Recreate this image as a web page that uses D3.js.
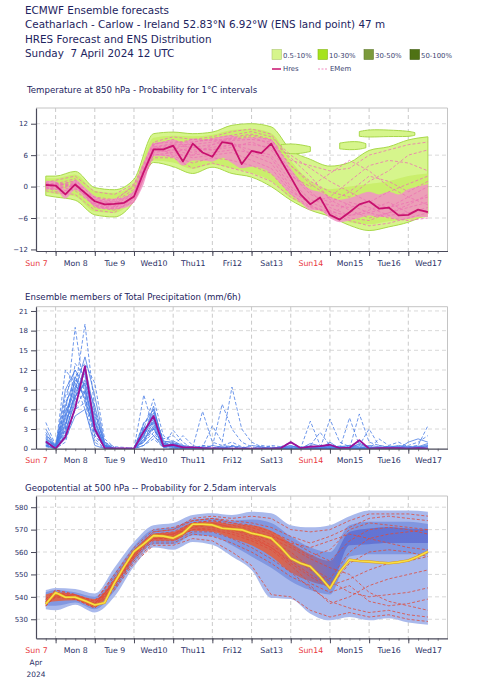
<!DOCTYPE html>
<html>
<head>
<meta charset="utf-8">
<script src="https://cdn.jsdelivr.net/npm/d3@7"></script>
<style>
  body { margin: 0; background: #fff; }
  text { font-family: "DejaVu Sans", sans-serif; }
</style>
</head>
<body>
<svg id="chart"></svg>
<script>
// ---- data ----
const baseTime = Date.UTC(2024, 3, 7, 12);   // Sun 7 April 2024 12 UTC
const endTime = Date.UTC(2024, 3, 18, 0);

const titleLines = [
    "ECMWF Ensemble forecasts",
    "Ceatharlach - Carlow - Ireland 52.83°N 6.92°W (ENS land point) 47 m",
    "HRES Forecast and ENS Distribution",
    "Sunday  7 April 2024 12 UTC"
];
const dayLabels = ["Sun 7", "Mon 8", "Tue 9", "Wed10", "Thu11", "Fri12", "Sat13", "Sun14", "Mon15", "Tue16", "Wed17"];
const legendLabels = ["0.5-10%", "10-30%", "30-50%", "50-100%"];
const legendColors = ["#d6f58c", "#a6e31c", "#7b9a3c", "#4f7214"];

// forecast steps (hours after base time)
const stepHours = [6, 12, 18, 24, 30, 36, 42, 48, 54, 60, 66, 72, 78, 84, 90, 96, 102, 108, 114, 120,
    126, 132, 138, 144, 150, 156, 162, 168, 174, 180, 186, 192, 198, 204, 210, 216, 222, 228, 234, 240];
const bandHours = [6, 12, 24, 36, 48, 60, 72, 84, 96, 108, 120, 132, 144, 156, 168, 180, 192, 204, 216, 228, 240];

// Temperature 850 hPa
const t850Ticks = [-12, -6, 0, 6, 12];
const t850Hres = [0.3, 0.2, -1.5, 0.4, -1.2, -2.8, -3.4, -3.3, -3.1, -1.9, 2.8, 7.1, 7.1, 7.8, 4.8, 8.2, 6.5, 5.7, 8.5, 8.2,
    4.3, 6.8, 6.4, 8.2, 5.0, 1.8, -1.5, -3.4, -2.1, -5.4, -6.3, -4.9, -3.4, -2.8, -4.2, -4.0, -5.5, -5.4, -4.4, -4.9];
const t850OuterHi = [2.0, 2.0, 2.9, -0.2, -0.6, 1.4, 10.1, 10.4, 10.1, 10.4, 11.7, 12.0, 11.4, 7.0, 5.2, 3.9, 4.6, 6.9, 7.6, 8.9, 9.5];
const t850OuterLo = [-1.7, -2.0, -2.6, -5.4, -5.8, -2.8, 4.6, 3.8, 2.5, 3.7, 2.5, 1.8, 0.0, -2.6, -4.5, -5.7, -7.4, -8.4, -7.7, -6.8, -5.2];
const t850MidHi = [1.6, 1.6, 2.3, -0.8, -1.2, 0.6, 9.3, 9.7, 9.6, 9.9, 10.8, 11.0, 10.2, 5.0, 1.0, -0.5, 0.0, 0.5, 1.0, 2.0, 2.5];
const t850MidLo = [-1.2, -1.4, -1.9, -4.8, -5.0, -2.2, 5.0, 4.6, 3.4, 4.2, 3.5, 2.6, 1.0, -2.2, -4.0, -5.2, -6.8, -7.2, -6.6, -6.3, -5.8];
const t850CoreHi = [1.1, 1.0, -0.5, 1.3, -0.2, -1.8, -2.4, -2.3, -2.0, -0.6, 4.5, 8.3, 8.6, 9.0, 8.5, 9.2, 9.0, 9.2, 9.6, 9.8,
    9.2, 9.4, 9.3, 9.0, 6.5, 3.5, 1.0, -0.5, -1.0, -2.0, -2.5, -2.2, -1.5, -1.0, -1.5, -1.0, -1.5, -0.5, 0.0, 0.5];
const t850CoreLo = [-0.5, -0.6, -2.3, -0.6, -2.2, -3.8, -4.3, -4.3, -4.1, -3.0, 0.5, 5.8, 5.8, 5.5, 4.0, 5.0, 5.0, 4.8, 5.5, 4.5,
    3.5, 3.8, 3.5, 2.5, 0.5, -1.5, -3.0, -4.5, -4.5, -6.0, -6.8, -6.5, -6.0, -5.5, -5.8, -5.8, -6.3, -6.2, -5.8, -5.8];
const t850IslandHours = [[186, 192, 198, 202], [198, 204, 216, 228, 232], [150, 156, 162, 168]];
const t850IslandHi = [[8.3, 8.6, 8.6, 8.2], [10.5, 10.9, 10.8, 10.6, 10.3], [8.0, 8.2, 8.0, 7.6]];
const t850IslandLo = [[7.2, 7.0, 7.1, 7.4], [9.6, 9.4, 9.6, 9.5, 9.8], [6.6, 6.2, 6.3, 6.7]];
const t850Members = [
    [0.8, 1.2, 2.0, -1.0, -1.5, 0.5, 8.5, 9.5, 9.0, 9.5, 10.5, 11.0, 10.0, 5.0, 4.0, 3.0, 3.5, 6.0, 7.0, 8.0, 8.5],
    [-0.8, -1.2, -1.5, -4.5, -5.0, -2.0, 5.5, 5.5, 3.5, 4.5, 3.5, 2.5, 1.0, -2.0, -4.0, -5.0, -6.5, -7.5, -7.0, -6.0, -5.0],
    [0.3, 0.0, 0.8, -3.0, -3.5, -1.5, 7.0, 7.5, 6.5, 7.5, 8.0, 7.0, 6.0, 1.0, -2.5, -3.5, -4.0, -3.0, -1.0, 0.5, 2.0],
    [0.5, -0.5, 0.2, -2.5, -3.0, -0.5, 7.5, 8.0, 8.0, 8.5, 9.0, 9.5, 8.0, 3.0, -1.0, -4.0, -5.5, -5.0, -4.0, -3.0, -2.0],
    [-0.3, 0.5, 1.5, -3.5, -4.0, -2.5, 6.0, 6.5, 5.5, 6.0, 6.5, 5.0, 3.5, -1.0, -3.0, -2.0, 1.0, 4.0, 5.0, 4.5, 3.0],
    [0.0, -1.0, -0.5, -2.0, -2.5, 0.0, 8.0, 9.0, 7.0, 7.0, 7.5, 8.5, 7.0, 2.0, 0.0, 2.5, 5.0, 3.0, 0.0, -2.0, -3.5],
    [0.6, 0.4, 1.0, -4.0, -4.5, -3.0, 6.5, 7.0, 8.5, 9.0, 8.5, 6.0, 4.5, -0.5, -3.5, -5.5, -3.0, -4.0, -5.5, -5.0, -4.0],
    [0.2, 0.8, -0.3, -2.8, -3.2, -1.0, 7.8, 6.0, 6.0, 8.0, 9.5, 10.0, 9.0, 4.0, 1.0, -1.0, -2.0, 1.0, 3.0, 6.0, 7.0],
    [0.4, 0.3, 0.5, -3.2, -3.8, -2.0, 7.2, 7.8, 7.5, 8.0, 8.8, 9.0, 8.5, 4.0, 0.5, -2.0, -3.5, -5.0, -6.0, -6.5, -6.0],
    [-0.5, -0.2, 0.3, -3.8, -4.2, -1.8, 6.8, 7.0, 6.0, 6.5, 7.0, 6.5, 5.5, 0.0, -3.0, -4.5, -6.0, -6.5, -5.0, -4.0, -3.0],
    [0.7, 0.0, 1.2, -2.2, -2.8, 0.3, 8.2, 8.5, 8.5, 9.2, 9.8, 10.5, 9.5, 6.0, 3.5, 1.0, -1.0, -3.0, -4.0, -2.0, 0.0],
    [0.1, 0.6, 0.0, -3.3, -3.7, -2.2, 7.0, 6.5, 7.5, 7.0, 8.0, 8.0, 7.5, 2.5, -1.5, -3.0, -1.0, 2.0, 1.0, -1.0, 1.0],
    [-0.2, -0.6, 0.6, -2.6, -3.3, -1.2, 7.6, 8.2, 9.0, 8.8, 9.2, 9.8, 8.8, 5.5, 2.0, -2.5, -4.5, -6.0, -5.0, -3.5, -1.5],
    [0.5, 0.2, -0.8, -3.6, -4.4, -2.8, 6.2, 5.8, 4.5, 5.5, 5.0, 4.0, 2.5, -1.5, -3.8, -4.8, -5.5, -4.5, -3.0, -5.0, -4.5]
];

// Total precipitation (mm/6h)
const precTicks = [0, 3, 6, 9, 12, 15, 18, 21];
const precHres = [1.1, 0, 1.8, 6.2, 12.6, 3.0, 0.1, 0.05, 0.05, 0, 2.6, 5.0, 0.4, 0.6, 0.2, 0.2, 0.1, 0.05, 0, 0,
    0, 0, 0, 0, 0.1, 1.0, 0.1, 0.3, 0.4, 0.6, 0.1, 0.15, 1.3, 0, 0.1, 0.1, 0.1, 0, 0.1, 0];
// outlying members (dashed)
const precMembersOut = [
    [1.5, 0.3, 5, 18.5, 8, 2, 0.3, 0, 0, 0, 1, 3, 0.5, 0.3, 0, 0, 0, 0, 0.5, 1, 0.3, 0, 0, 0, 0, 0, 0, 0, 0, 0, 0, 0, 0, 0, 0, 0, 0, 0, 0, 0],
    [0.8, 0, 2, 9, 19, 6, 0.5, 0, 0, 0, 2, 6, 1, 0.5, 0.2, 0, 0.5, 0.2, 0, 0.3, 0, 0, 0, 0, 0, 0.2, 0, 0, 0, 0, 0, 0, 0, 0, 0, 0, 0, 0, 0, 0.5],
    [4, 0.5, 3, 11, 13, 10, 1.5, 0.2, 0, 0, 8.2, 3, 0.5, 2.8, 1, 0, 0, 0, 0, 0, 0, 0, 0, 0, 0, 0, 0, 0, 0, 0, 0, 0, 0, 0, 0, 0, 0, 0, 0, 0],
    [2, 0.2, 8, 12, 7, 3, 0.5, 0, 0, 0, 3, 7.6, 2, 1, 0.5, 0.2, 5.7, 1, 0.5, 0.3, 0, 0, 0, 0, 0, 0, 0, 0, 0, 0, 0, 0, 0, 0, 0, 0, 0, 0, 0, 0],
    [1, 0, 12, 10, 6, 1, 0, 0, 0, 0, 1.5, 4, 0.5, 0.2, 0, 0, 0.5, 0.3, 6.8, 3, 1, 0.3, 0, 0, 0, 0, 0, 0, 0, 0, 0, 0, 0, 0, 0, 0, 0, 0, 0, 0],
    [0.5, 0.3, 4, 8, 10, 5, 1, 0.3, 0.2, 0, 4, 5, 1.5, 2, 0.5, 0.3, 0.2, 3.5, 1, 9.4, 3, 1, 0.3, 0, 0, 0, 0, 4.2, 0.5, 0, 0, 0, 0, 0, 0, 0, 0, 0, 0, 0],
    [2.5, 0, 1, 6, 9, 4, 0.5, 0, 0, 0, 2.5, 3, 0.5, 0.3, 2, 0.5, 0, 0, 0.2, 0.5, 0.2, 0, 0, 0, 0.3, 1, 0.2, 0.5, 2.5, 0.5, 0, 0, 0, 0, 0, 0, 0, 0, 0, 0],
    [1.2, 0.5, 6, 7.5, 12, 3, 0.2, 0, 0, 0.2, 1, 2.5, 0.3, 1, 0.2, 0, 0, 0, 0, 0, 0, 0, 0.5, 0.3, 0, 0, 0, 0, 0, 4.5, 1, 0.3, 0, 0, 0, 0, 0, 0, 0, 0],
    [0.8, 0, 3, 13, 11, 4, 0.5, 0, 0, 0, 0.5, 1.5, 0.2, 0, 0, 0, 0, 0, 0, 0, 0, 0, 0, 0, 0, 0, 0, 0, 0, 0, 0, 4.7, 0.5, 3, 0.5, 0.2, 0, 0, 0, 0],
    [1.8, 0.2, 7, 10, 8, 2, 0.3, 0, 0, 0, 3.5, 2, 0.5, 0.3, 0, 0, 0, 0, 0, 0, 0, 0, 0, 0, 0, 0, 0, 0, 0, 0.3, 0.2, 0, 5.3, 1, 0.5, 0.3, 0.2, 0.5, 1, 2],
    [0.3, 0, 2.5, 6, 7, 1.5, 0, 0, 0, 0, 1, 4.5, 0.8, 0.5, 0, 0, 0, 0, 0, 0, 0, 0, 0, 0.5, 0.3, 0, 0, 0.5, 0, 0, 0, 0.5, 1, 0, 1.5, 0.5, 1, 0.3, 0.5, 3.5]
];
// members in the dense core (thin solid)
const precMembersCore = [
    [1, 0.2, 5, 9, 14, 8, 1, 0, 0, 0, 2, 6.5, 0.5, 0.3, 0.2, 0, 0, 0, 0, 0, 0, 0.5, 0.3, 0, 0, 0, 0.2, 0, 0, 0, 0, 0, 0, 0, 0, 0, 0, 1, 1.5, 1],
    [3, 0.3, 9, 12, 9.5, 2.5, 0.5, 0, 0, 0, 0.5, 2, 0.2, 0, 0, 0, 0, 0, 0, 0, 0, 0, 0, 0, 0, 0, 0, 0, 0, 0, 0, 0, 0, 0, 0, 0, 0, 0, 0, 0],
    [0.5, 0, 1.5, 5, 6, 0.5, 0, 0, 0, 0, 1.2, 3.5, 0.3, 0.8, 0.3, 0, 0, 0, 0, 0, 0, 0, 0, 0, 0, 0, 0, 0, 0, 1, 0, 0, 0.2, 0, 0, 0, 0, 0, 0, 0],
    [0.6, 0, 3.5, 8.5, 11.5, 4.5, 0.3, 0, 0, 0, 2.2, 4.2, 0.6, 0.4, 0, 0, 0.3, 0, 0, 0, 0, 0, 0, 0.2, 0, 0, 0, 0.4, 0.2, 0, 0, 0.3, 0.6, 0.2, 0, 0, 0.3, 0.2, 0, 0.4],
    [1.4, 0.1, 4.5, 10.5, 9, 3.5, 0.4, 0, 0, 0, 3.2, 3.8, 0.8, 0.6, 0.2, 0, 0, 0.5, 0.2, 0, 0, 0, 0, 0, 0.2, 0.5, 0, 0, 0, 0.4, 0.2, 0, 0, 0.5, 0.3, 0, 0, 0, 0.2, 0],
    [0.9, 0.2, 2.8, 7, 10.5, 6.5, 0.8, 0, 0, 0, 1.8, 5.5, 1.2, 0.8, 0.3, 0, 0, 0, 0, 0.4, 0.2, 0, 0, 0, 0, 0, 0, 0.8, 0.4, 0.2, 0, 0, 0.8, 0.3, 0, 0.2, 0.5, 0.3, 0.2, 0.6],
    [2.2, 0.4, 6.5, 11, 7.5, 2.8, 0.2, 0, 0, 0, 2.8, 4.8, 0.4, 0.2, 0, 0, 0, 0, 0.3, 0, 0, 0, 0, 0, 0, 0.3, 0.2, 0, 0.3, 0.6, 0.2, 0, 0, 0, 0, 0.4, 0.3, 0, 0, 0],
    [0.4, 0, 2.2, 7.8, 12.5, 5.5, 0.6, 0, 0, 0, 1.4, 3.2, 0.5, 0.3, 0.1, 0, 0, 0, 0, 0, 0, 0, 0.2, 0, 0, 0, 0, 0.3, 0, 0, 0.3, 0.5, 0.2, 0, 0.2, 0, 0, 0.2, 0.4, 0.2],
    [1.6, 0.3, 5.5, 9.5, 8.5, 3.2, 0.3, 0, 0, 0, 3.8, 6, 1, 1.2, 0.4, 0, 0, 0, 0, 0, 0, 0, 0, 0, 0, 0.2, 0, 0, 0.2, 0.3, 0, 0, 0.4, 0, 0, 0, 0.2, 0, 0, 0.3],
    [1.1, 0.1, 3.8, 8, 10, 4, 0.5, 0, 0, 0, 2.5, 4.5, 0.7, 0.5, 0.2, 0, 0.2, 0, 0, 0, 0, 0, 0, 0, 0.2, 0.4, 0.2, 0.2, 0, 0.2, 0.4, 0.2, 0, 0.2, 0.2, 0.3, 0, 0, 0.3, 0.8]
];

// Geopotential 500 hPa (dam)
const z500Ticks = [530, 540, 550, 560, 570, 580];
const z500Hres = [536.8, 541.9, 539.8, 539.8, 538.3, 536.4, 537.4, 546.1, 553.5, 560.2, 563.6, 567.3, 567.1, 566.2, 568.4, 572.4, 572.4, 572.1, 570.6, 570.3,
    569.9, 568.4, 567.5, 566.2, 562.0, 557.2, 555.0, 553.5, 549.0, 543.8, 551.2, 556.5, 556.0, 555.7, 555.3, 555.0, 555.5, 556.2, 558.0, 560.2];
const z500OuterHi = [543, 544, 543.5, 541.5, 553, 564.5, 572, 573, 576.5, 577.3, 576.5, 578, 577.3, 572, 571, 572, 576, 578.5, 578.5, 578.5, 578];
const z500OuterLo = [534.5, 534, 536.5, 533, 540, 553.5, 562, 561, 564.5, 563.2, 558, 552, 539.5, 539, 532.5, 529.5, 531, 529.5, 530.5, 528.5, 527.5];
const z500InnerHi = [542, 543, 542, 540, 550.5, 562.5, 570, 571, 574.5, 575, 574, 574.5, 573, 567, 562, 560, 572, 573.5, 573.5, 573.5, 572.5];
const z500InnerLo = [536, 536, 537.5, 534.5, 542.5, 555.5, 563.5, 563.5, 567.5, 567, 563, 558, 553, 547, 543, 541, 558, 559, 559, 559, 559];
const z500CoreHi = [541, 542, 541, 539, 548, 560, 568, 569, 573, 573.5, 572.5, 572, 569.5, 564, 559, 556, 569, 570.5, 571, 570.5, 570];
const z500CoreLo = [537.5, 538, 538.5, 535.5, 545, 557, 565, 565, 569.5, 569, 566, 563, 558, 551, 547, 545, 563, 563.5, 564, 564, 564];
const z500Members = [
    [538, 542, 540, 537, 548, 561, 569, 570, 575, 576, 575, 576, 575, 570, 569, 570, 574, 577, 577, 577, 576],
    [536, 540, 539, 535, 543, 555, 563, 563, 566, 565, 560, 554, 541, 540, 534, 531, 533, 531, 532, 530, 529],
    [537, 541, 540, 536, 545, 558, 566, 566, 570, 571, 569, 566, 562, 556, 550, 545, 548, 552, 555, 556, 558],
    [539, 543, 541, 538, 550, 562, 570, 571, 574, 575, 573, 572, 569, 565, 560, 556, 565, 570, 571, 570, 568],
    [537, 541, 539, 537, 546, 559, 567, 567, 572, 572, 570, 568, 565, 560, 553, 548, 560, 566, 568, 569, 570],
    [536, 541, 540, 536, 544, 556, 564, 564, 568, 567, 564, 560, 555, 549, 545, 537, 540, 545, 548, 550, 552],
    [538, 542, 539, 536, 547, 560, 568, 569, 573, 574, 572, 570, 566, 562, 557, 553, 550, 542, 538, 536, 534],
    [537, 540, 541, 537, 546, 559, 567, 568, 571, 573, 571, 569, 567, 564, 562, 565, 568, 566, 564, 562, 561],
    [537, 541, 540, 536, 545, 557, 565, 565, 569, 569, 566, 562, 557, 551, 544, 538, 535, 533, 534, 532, 531],
    [538, 542, 540, 537, 547, 560, 568, 568, 572, 573, 571, 568, 563, 558, 552, 547, 542, 540, 541, 542, 544],
    [536, 540, 539, 535, 544, 557, 566, 567, 571, 572, 570, 567, 562, 555, 549, 544, 555, 560, 561, 560, 558],
    [538, 541, 540, 537, 546, 559, 567, 568, 573, 574, 573, 571, 568, 563, 558, 561, 570, 573, 572, 571, 570],
    [537, 542, 541, 537, 546, 558, 566, 566, 570, 570, 568, 565, 561, 554, 546, 542, 545, 538, 536, 537, 539],
    [539, 543, 541, 538, 549, 561, 569, 570, 574, 575, 574, 573, 571, 567, 564, 567, 571, 575, 576, 575, 574]
];

// ---- drawing ----
const width = 483, height = 680;
const plotLeft = 36, plotRight = 447.5;
const textColor = "#2a3066";
const sundayColor = "#e8383d";

const svg = d3.select("#chart").attr("width", width).attr("height", height);
const defs = svg.append("defs");

const toDate = h => new Date(baseTime + h * 3600e3);
const xScale = d3.scaleUtc().domain([new Date(baseTime), new Date(endTime)]).range([plotLeft, plotRight]);

// header
svg.append("g").selectAll("text")
    .data(titleLines)
    .join("text")
    .attr("x", 25)
    .attr("y", (d, i) => 14 + i * 14.3)
    .attr("font-size", 10.4)
    .attr("fill", "#1d2460")
    .attr("xml:space", "preserve")
    .attr("textLength", (d, i) => i === 1 ? 360 : null)
    .text(d => d);

// legend
const legend = svg.append("g");
legendLabels.forEach((lab, i) => {
    const lx = 272 + i * 46;
    legend.append("rect")
        .attr("x", lx).attr("y", 49.5).attr("width", 9.5).attr("height", 10)
        .attr("fill", legendColors[i]).attr("stroke", d3.color(legendColors[i]).darker(0.6)).attr("stroke-width", 0.6);
    legend.append("text")
        .attr("x", lx + 11).attr("y", 57.5).attr("font-size", 6.9).attr("fill", "#3a3f70").text(lab);
});
legend.append("line").attr("x1", 272).attr("x2", 281).attr("y1", 69).attr("y2", 69)
    .attr("stroke", "#c8106e").attr("stroke-width", 1.5);
legend.append("text").attr("x", 283).attr("y", 71.3).attr("font-size", 6.9).attr("fill", "#3a3f70").text("Hres");
legend.append("line").attr("x1", 318).attr("x2", 328).attr("y1", 69).attr("y2", 69)
    .attr("stroke", "#f08cc0").attr("stroke-width", 1).attr("stroke-dasharray", "2,1.5");
legend.append("text").attr("x", 330).attr("y", 71.3).attr("font-size", 6.9).attr("fill", "#3a3f70").text("EMem");

function drawPanel(p) {
    const g = svg.append("g");
    const yScale = d3.scaleLinear().domain(p.domain).range([p.bottom, p.top]);

    g.append("text")
        .attr("x", p.titleX).attr("y", p.titleY)
        .attr("font-size", 8.6).attr("fill", "#1d2460")
        .text(p.title);

    const clipId = "clip" + p.id;
    g.append("clipPath").attr("id", clipId)
        .append("rect")
        .attr("x", plotLeft).attr("y", p.top)
        .attr("width", plotRight - plotLeft).attr("height", p.bottom - p.top);

    // grid
    const midnights = d3.utcDay.range(toDate(1), new Date(endTime));
    g.append("g").selectAll("line")
        .data(midnights)
        .join("line")
        .attr("x1", d => xScale(d)).attr("x2", d => xScale(d))
        .attr("y1", p.top).attr("y2", p.bottom)
        .attr("stroke", "#bdbdbd").attr("stroke-width", 0.8).attr("stroke-dasharray", "4,3");
    g.append("g").selectAll("line")
        .data(p.ticks.filter(v => yScale(v) < p.bottom - 2))
        .join("line")
        .attr("x1", plotLeft).attr("x2", plotRight)
        .attr("y1", d => yScale(d)).attr("y2", d => yScale(d))
        .attr("stroke", "#cfcfcf").attr("stroke-width", 0.8).attr("stroke-dasharray", "4,3");

    const plot = g.append("g").attr("clip-path", `url(#${clipId})`);
    p.draw(plot, yScale);

    // frame
    g.append("path")
        .attr("d", `M${plotLeft},${p.top}H${plotRight}V${p.bottom}`)
        .attr("fill", "none").attr("stroke", "#c4c4c4").attr("stroke-width", 1);

    // y axis
    const yAxis = g.append("g")
        .attr("transform", `translate(${plotLeft},0)`)
        .call(d3.axisLeft(yScale).tickValues(p.ticks).tickSize(5).tickPadding(3).tickSizeOuter(0));
    yAxis.select(".domain").attr("stroke", "#4a4a5a").attr("stroke-width", 1.2);
    yAxis.selectAll(".tick line").attr("stroke", "#4a4a5a");
    yAxis.selectAll(".tick text").attr("font-size", 7).attr("fill", textColor)
        .attr("font-family", "DejaVu Sans, sans-serif");

    // x axis: day ticks, 6h minor ticks, labels at noon
    const xMajor = g.append("g")
        .attr("transform", `translate(0,${p.bottom})`)
        .call(d3.axisBottom(xScale).tickValues(midnights).tickSize(5).tickFormat("").tickSizeOuter(0));
    xMajor.select(".domain").attr("stroke", "#4a4a5a").attr("stroke-width", 1.2);
    xMajor.selectAll(".tick line").attr("stroke", "#4a4a5a");

    const minor = d3.utcHour.every(6).range(toDate(1), new Date(endTime));
    g.append("g")
        .attr("transform", `translate(0,${p.bottom})`)
        .call(d3.axisBottom(xScale).tickValues(minor).tickSize(2.5).tickFormat(""))
        .call(a => a.select(".domain").remove())
        .selectAll(".tick line").attr("stroke", "#4a4a5a").attr("stroke-width", 0.7);

    const noons = dayLabels.map((d, i) => toDate(i * 24));
    const xLab = g.append("g")
        .attr("transform", `translate(0,${p.bottom})`)
        .call(d3.axisBottom(xScale).tickValues(noons).tickSize(0).tickPadding(p.labelPad)
            .tickFormat((d, i) => dayLabels[i]));
    xLab.select(".domain").remove();
    xLab.selectAll(".tick text")
        .attr("font-size", 7.8)
        .attr("font-family", "DejaVu Sans, sans-serif")
        .attr("fill", (d, i) => dayLabels[i].startsWith("Sun") ? sundayColor : textColor);

    if (p.dateBelow) {
        ["Apr", "2024"].forEach((s, i) => {
            g.append("text")
                .attr("x", xScale(noons[0])).attr("y", p.bottom + 27 + i * 12)
                .attr("text-anchor", "middle").attr("font-size", 7.4).attr("fill", textColor)
                .text(s);
        });
    }
}

function bandArea(hours, lo, hi, yScale, curve) {
    return d3.area()
        .x((d, i) => xScale(toDate(hours[i])))
        .y0((d, i) => yScale(lo[i]))
        .y1((d, i) => yScale(hi[i]))
        .curve(curve || d3.curveMonotoneX)(hours);
}

function seriesLine(hours, vals, yScale, curve) {
    return d3.line()
        .x((d, i) => xScale(toDate(hours[i])))
        .y(d => yScale(d))
        .curve(curve || d3.curveLinear)(vals);
}

// Panel 1: temperature at 850 hPa
drawPanel({
    id: 1, top: 108, bottom: 251, domain: [-12.3, 15], ticks: t850Ticks,
    title: "Temperature at 850 hPa - Probability for 1°C intervals", titleX: 27, titleY: 92.7, labelPad: 9,
    draw: (plot, y) => {
        plot.append("path").attr("d", bandArea(bandHours, t850OuterLo, t850OuterHi, y))
            .attr("fill", "#d6f58c").attr("stroke", "#a8d84a").attr("stroke-width", 1);
        t850IslandHours.forEach((hrs, k) => {
            plot.append("path").attr("d", bandArea(hrs, t850IslandLo[k], t850IslandHi[k], y, d3.curveBasis))
                .attr("fill", "#d6f58c").attr("stroke", "#a8d84a").attr("stroke-width", 1);
        });
        plot.append("path").attr("d", bandArea(bandHours, t850MidLo, t850MidHi, y))
            .attr("fill", "#c6ec62").attr("opacity", 0.75);
        plot.append("path").attr("d", bandArea(stepHours, t850CoreLo, t850CoreHi, y))
            .attr("fill", "#f290c6").attr("opacity", 0.85);
        t850Members.forEach(m => {
            plot.append("path").attr("d", seriesLine(bandHours, m, y))
                .attr("fill", "none").attr("stroke", "#ee72b2").attr("stroke-width", 0.8)
                .attr("stroke-dasharray", "3,2");
        });
        plot.append("path").attr("d", seriesLine(stepHours, t850Hres, y))
            .attr("fill", "none").attr("stroke", "#c8106e").attr("stroke-width", 1.8)
            .attr("stroke-linejoin", "round");
    }
});

// Panel 2: precipitation
drawPanel({
    id: 2, top: 306.7, bottom: 448.7, domain: [0, 21.65], ticks: precTicks,
    title: "Ensemble members of Total Precipitation (mm/6h)", titleX: 25, titleY: 299.5, labelPad: 9,
    draw: (plot, y) => {
        precMembersCore.forEach(m => {
            plot.append("path").attr("d", seriesLine(stepHours, m, y))
                .attr("fill", "none").attr("stroke", "#4a7ee6").attr("stroke-width", 0.8);
        });
        precMembersOut.forEach(m => {
            plot.append("path").attr("d", seriesLine(stepHours, m, y))
                .attr("fill", "none").attr("stroke", "#4a7ee6").attr("stroke-width", 0.8)
                .attr("stroke-dasharray", "3.5,2");
        });
        plot.append("path").attr("d", seriesLine(stepHours, precHres, y))
            .attr("fill", "none").attr("stroke", "#9a0f98").attr("stroke-width", 1.8)
            .attr("stroke-linejoin", "round");
    }
});

// Panel 3: geopotential at 500 hPa
// core shading turns from red (tight cluster) to blue once the members split up
const coreGrad = defs.append("linearGradient")
    .attr("id", "zCore").attr("gradientUnits", "userSpaceOnUse")
    .attr("x1", xScale(toDate(150))).attr("x2", xScale(toDate(186)))
    .attr("y1", 0).attr("y2", 0);
coreGrad.append("stop").attr("offset", 0).attr("stop-color", "#e4603e");
coreGrad.append("stop").attr("offset", 1).attr("stop-color", "#5f6fd2");

drawPanel({
    id: 3, top: 496, bottom: 638.3, domain: [521.5, 585], ticks: z500Ticks,
    title: "Geopotential at 500 hPa -- Probability for 2.5dam intervals", titleX: 25, titleY: 490.5, labelPad: 9,
    dateBelow: true,
    draw: (plot, y) => {
        plot.append("path").attr("d", bandArea(bandHours, z500OuterLo, z500OuterHi, y))
            .attr("fill", "#a9b9ec");
        plot.append("path").attr("d", bandArea(bandHours, z500InnerLo, z500InnerHi, y))
            .attr("fill", "#8197e0");
        plot.append("path").attr("d", bandArea(bandHours, z500CoreLo, z500CoreHi, y))
            .attr("fill", "url(#zCore)").attr("opacity", 0.88);
        z500Members.forEach(m => {
            plot.append("path").attr("d", seriesLine(bandHours, m, y))
                .attr("fill", "none").attr("stroke", "#e04a3a").attr("stroke-width", 0.8)
                .attr("stroke-dasharray", "3,2");
        });
        plot.append("path").attr("d", seriesLine(stepHours, z500Hres, y))
            .attr("fill", "none").attr("stroke", "#d99a20").attr("stroke-width", 2.6)
            .attr("stroke-linejoin", "round");
        plot.append("path").attr("d", seriesLine(stepHours, z500Hres, y))
            .attr("fill", "none").attr("stroke", "#f8de44").attr("stroke-width", 1.6)
            .attr("stroke-linejoin", "round");
    }
});
</script>
</body>
</html>
